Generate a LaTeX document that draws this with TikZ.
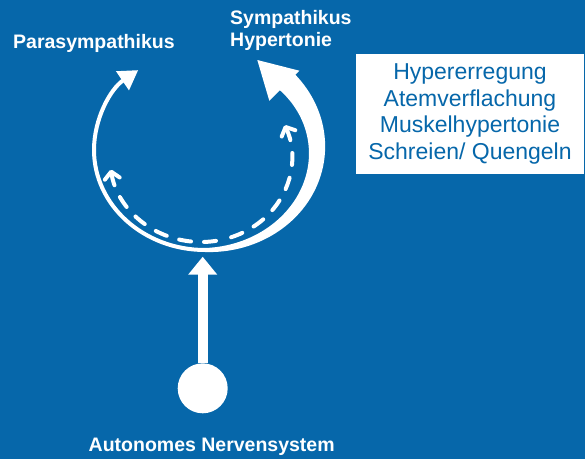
\documentclass[tikz,border=0pt]{standalone}
\usepackage{fontspec}
\setmainfont{Liberation Sans}
\usetikzlibrary{arrows.meta}
\usetikzlibrary{positioning}
\definecolor{ansblue}{RGB}{6,103,170}
\tikzstyle{lbl} = [text=white, font=\bfseries\fontsize{19.5}{21.7}\selectfont, inner sep=0pt, align=left]
\tikzstyle{effectbox} = [rectangle, fill=white, text=ansblue, minimum width=228pt, minimum height=120pt, inner sep=0pt, align=center, font=\fontsize{23}{26.7}\selectfont]
\tikzstyle{thinarrow} = [white, line width=4pt, -{Triangle[length=19pt,width=22pt]}]
\tikzstyle{dasharrow} = [white, line width=4pt, line cap=round, dash pattern=on 12pt off 13pt, {Straight Barb[length=7pt,width=15pt,line width=4pt,round]}-]
\tikzstyle{stem} = [white, line width=10pt, -{Triangle[length=18pt,width=28pt]}]
\tikzstyle{hubdot} = [circle, fill=white, minimum size=50pt, inner sep=0pt]
\tikzset{declare function={bw(\t)=2+9*(\t+90)/133;}}

\begin{document}
\begin{tikzpicture}[x=1pt,y=1pt]

\useasboundingbox (0,0) rectangle (585,459);
\fill[ansblue] (0,0) rectangle (585,459);

\coordinate (hub) at (205,309);
\coordinate (inner) at (201,301);

\node [lbl, anchor=base west] (para) at (13,410.7) {Parasympathikus};
\node [lbl, anchor=north west] (symp) at (230,448.5) {Sympathikus\\Hypertonie};
\node [effectbox] (effects) at (470,345) {Hypererregung\\Atemverflachung\\Muskelhypertonie\\Schreien/ Quengeln};

\node [hubdot] (ans) at (202.7,70.7) {};
\node [lbl, anchor=base] (anslabel) at (211.7,7.3) {Autonomes Nervensystem};
\coordinate (loopbase) at (202.7,202.3);

% thin loop to the left
\draw [thinarrow] ([shift={(270:111 and 100)}]hub) arc[start angle=270, end angle=127, x radius=111, y radius=100];

% thick loop to the right
\fill[white] plot[domain=-90:43, samples=60] ({205+(112+bw(\x))*cos(\x)}, {309+(100+bw(\x))*sin(\x)})
  -- plot[domain=43:-90, samples=60] ({205+(112-bw(\x))*cos(\x)}, {309+(100-bw(\x))*sin(\x)}) -- cycle;
\coordinate (headtip) at (257.3,399);
\coordinate (headl) at (269.3,358.3);
\coordinate (headr) at (299.3,388.3);
\fill[white] (headtip) -- (headl) -- (headr) -- cycle;

% dashed inner loop, drawn from both tips
\draw [dasharrow] ([shift={(188:91 and 84)}]inner) arc[start angle=188, end angle=286, x radius=91, y radius=84];
\draw [dasharrow] ([shift={(383:91 and 84)}]inner) arc[start angle=383, end angle=286, x radius=91, y radius=84];

\draw [stem] (ans) -- (loopbase);

\end{tikzpicture}
\end{document}
